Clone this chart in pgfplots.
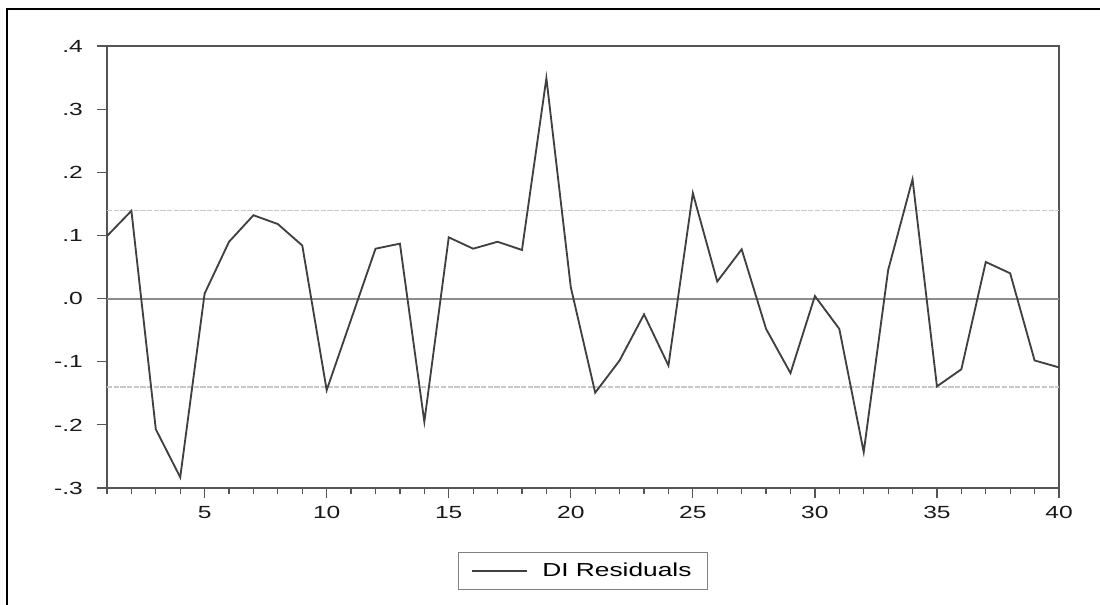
\documentclass[border=0pt]{standalone}
\usepackage{fontspec}
\setmainfont{Liberation Sans}[FakeStretch=1.4]
\usepackage{pgfplots}
\pgfplotsset{compat=1.18}
\definecolor{dataline}{HTML}{404040}
\definecolor{zeroline}{HTML}{8C8C8C}
\definecolor{bandline}{HTML}{C8C8C8}
\definecolor{axisgray}{HTML}{555555}
\pgfplotstableread{
x y
1 0.099
2 0.139
3 -0.207
4 -0.283
5 0.008
6 0.090
7 0.132
8 0.118
9 0.084
10 -0.145
11 -0.033
12 0.079
13 0.087
14 -0.195
15 0.097
16 0.079
17 0.090
18 0.077
19 0.349
20 0.018
21 -0.149
22 -0.098
23 -0.025
24 -0.106
25 0.167
26 0.027
27 0.078
28 -0.048
29 -0.118
30 0.004
31 -0.048
32 -0.243
33 0.045
34 0.189
35 -0.139
36 -0.112
37 0.058
38 0.040
39 -0.098
40 -0.109
}\resid
\begin{document}
\begin{tikzpicture}
\path[use as bounding box] (-2.14,-2.32) rectangle (19.86,9.76);
\draw[black, line width=1.2pt] (-2.0,-2.5) -- (-2.0,9.58) -- (20.1,9.58);
\begin{axis}[
  at={(0,0)}, anchor=south west,
  scale only axis,
  width=19.04cm, height=8.84cm,
  xmin=1, xmax=40, ymin=-0.3, ymax=0.4,
  axis line style={axisgray, line width=0.8pt},
  tick align=outside,
  xtick pos=bottom, ytick pos=left,
  xtick={5,10,15,20,25,30,35,40},
  xticklabels={5,10,15,20,25,30,35,40},
  minor xtick={1,2,...,40},
  ytick={-0.3,-0.2,-0.1,0,0.1,0.2,0.3,0.4},
  yticklabels={-.3,-.2,-.1,.0,.1,.2,.3,.4},
  major tick length=0.2cm, minor tick length=0.12cm,
  tick style={axisgray, line width=0.7pt},
  ticklabel style={font=\fontsize{10}{12}\selectfont, text=black!90},
  yticklabel style={xshift=-0.16cm},
  xticklabel style={yshift=-0.04cm},
  legend style={at={(0.5,-0.1878)}, anchor=center, draw=gray, line width=0.6pt,
    font=\fontsize{10.7}{12}\selectfont, inner xsep=0.24cm, inner ysep=0.14cm},
  legend image code/.code={\draw[#1] (0cm,0cm) -- (1.1cm,0cm);},
]
\addplot[bandline, line width=0.6pt, dash pattern=on 3pt off 0.8pt, forget plot] coordinates {(1,0.14) (40,0.14)};
\addplot[bandline, line width=0.6pt, dash pattern=on 3pt off 0.8pt, forget plot] coordinates {(1,-0.14) (40,-0.14)};
\addplot[zeroline, line width=1.2pt, forget plot] coordinates {(1,0) (40,0)};
\addplot[dataline, line width=1.05pt, line join=miter] table[x=x, y=y] {\resid};
\addlegendentry{\hspace{0.22cm}DI Residuals\hspace{0.08cm}}
\end{axis}
\end{tikzpicture}
\end{document}
